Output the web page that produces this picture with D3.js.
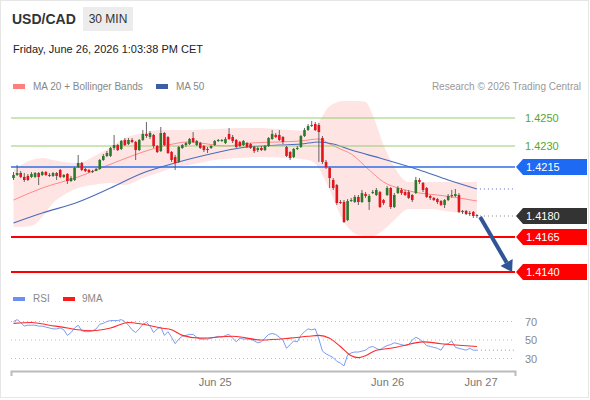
<!DOCTYPE html>
<html>
<head>
<meta charset="utf-8">
<script src="https://cdn.jsdelivr.net/npm/d3@7"></script>
<style>
body { margin: 0; background: #fff; }
svg { display: block; font-family: "Liberation Sans", Arial, sans-serif; }
</style>
</head>
<body>
<svg id="chart" width="590" height="400"></svg>
<script>
// 30 min candles, index 0 = first bar on the chart
var opens = [
1.42071,1.42093,1.42107,1.42079,1.42086,1.42079,1.42079,1.42107,1.42093,1.42114,
1.42093,1.42086,1.42107,1.42129,1.42079,1.42100,1.42050,1.42057,1.42150,1.42179,
1.42136,1.42129,1.42114,1.42121,1.42136,1.42200,1.42229,1.42229,1.42286,1.42307,
1.42279,1.42343,1.42314,1.42343,1.42329,1.42271,1.42343,1.42386,1.42364,1.42379,
1.42300,1.42264,1.42393,1.42364,1.42257,1.42221,1.42186,1.42286,1.42307,1.42314,
1.42357,1.42307,1.42321,1.42300,1.42279,1.42286,1.42307,1.42336,1.42336,1.42321,
1.42386,1.42364,1.42343,1.42329,1.42307,1.42321,1.42314,1.42293,1.42271,1.42286,
1.42271,1.42300,1.42350,1.42379,1.42379,1.42364,1.42293,1.42257,1.42221,1.42279,
1.42293,1.42371,1.42414,1.42443,1.42457,1.42450,1.42357,1.42186,1.42143,1.42057,
1.42021,1.41900,1.41900,1.41771,1.41907,1.41900,1.41936,1.41900,1.41957,1.41900,
1.41964,1.41950,1.41971,1.41914,1.41950,1.42000,1.41864,1.41964,1.41986,1.41971,
1.41971,1.41950,1.41964,1.42057,1.42036,1.42000,1.41943,1.41929,1.41921,1.41907,
1.41879,1.41914,1.41943,1.41943,1.41950,1.41836,1.41836,1.41821,1.41829,1.41807];
var closes = [
1.42093,1.42107,1.42079,1.42057,1.42057,1.42100,1.42107,1.42079,1.42114,1.42093,
1.42086,1.42107,1.42086,1.42079,1.42093,1.42050,1.42071,1.42143,1.42179,1.42129,
1.42121,1.42114,1.42121,1.42136,1.42200,1.42229,1.42250,1.42286,1.42307,1.42271,
1.42336,1.42307,1.42343,1.42329,1.42271,1.42343,1.42386,1.42371,1.42393,1.42300,
1.42257,1.42393,1.42307,1.42250,1.42200,1.42179,1.42293,1.42307,1.42321,1.42350,
1.42329,1.42336,1.42286,1.42271,1.42271,1.42300,1.42336,1.42343,1.42343,1.42350,
1.42350,1.42336,1.42293,1.42300,1.42336,1.42293,1.42286,1.42264,1.42286,1.42271,
1.42300,1.42357,1.42386,1.42364,1.42343,1.42329,1.42229,1.42214,1.42279,1.42286,
1.42371,1.42414,1.42443,1.42450,1.42414,1.42400,1.42186,1.42150,1.42071,1.42000,
1.41893,1.41893,1.41757,1.41907,1.41914,1.41936,1.41900,1.41964,1.41943,1.41943,
1.41971,1.41986,1.41864,1.41893,1.42000,1.41864,1.41950,1.42000,1.41964,1.41950,
1.41929,1.41914,1.42057,1.42043,1.41986,1.41936,1.41929,1.41914,1.41900,1.41879,
1.41914,1.41943,1.41950,1.41957,1.41829,1.41829,1.41814,1.41814,1.41800,1.41800];
var highs = [
1.42114,1.42164,1.42121,1.42107,1.42100,1.42114,1.42114,1.42114,1.42121,1.42121,
1.42107,1.42114,1.42114,1.42136,1.42100,1.42107,1.42086,1.42150,1.42236,1.42186,
1.42143,1.42136,1.42129,1.42143,1.42207,1.42243,1.42264,1.42293,1.42379,1.42314,
1.42343,1.42357,1.42357,1.42357,1.42336,1.42350,1.42414,1.42471,1.42407,1.42386,
1.42307,1.42436,1.42400,1.42371,1.42264,1.42236,1.42300,1.42314,1.42329,1.42357,
1.42400,1.42343,1.42329,1.42307,1.42293,1.42307,1.42343,1.42350,1.42350,1.42364,
1.42429,1.42379,1.42350,1.42336,1.42343,1.42329,1.42321,1.42300,1.42293,1.42300,
1.42307,1.42364,1.42414,1.42393,1.42414,1.42371,1.42300,1.42264,1.42286,1.42300,
1.42379,1.42429,1.42457,1.42479,1.42471,1.42464,1.42371,1.42200,1.42150,1.42071,
1.42029,1.41914,1.41914,1.41921,1.41929,1.41950,1.41950,1.41986,1.41971,1.41957,
1.41986,1.42000,1.41979,1.41921,1.42014,1.42007,1.41964,1.42014,1.42000,1.41986,
1.41986,1.41957,1.42079,1.42071,1.42043,1.42007,1.41950,1.41936,1.41929,1.41914,
1.41921,1.41957,1.41986,1.41993,1.41964,1.41843,1.41843,1.41836,1.41836,1.41814];
var lows = [
1.42057,1.42086,1.42071,1.42043,1.42050,1.42071,1.42071,1.42021,1.42086,1.42086,
1.42079,1.42079,1.42057,1.42071,1.42071,1.42029,1.42043,1.42050,1.42143,1.42121,
1.42114,1.42107,1.42107,1.42121,1.42129,1.42193,1.42221,1.42221,1.42271,1.42264,
1.42271,1.42300,1.42307,1.42321,1.42200,1.42264,1.42336,1.42357,1.42350,1.42286,
1.42250,1.42257,1.42300,1.42243,1.42186,1.42129,1.42179,1.42279,1.42293,1.42307,
1.42321,1.42300,1.42279,1.42257,1.42250,1.42279,1.42300,1.42329,1.42329,1.42314,
1.42343,1.42321,1.42286,1.42293,1.42300,1.42286,1.42279,1.42250,1.42257,1.42264,
1.42264,1.42293,1.42343,1.42357,1.42336,1.42314,1.42221,1.42200,1.42214,1.42271,
1.42286,1.42364,1.42407,1.42436,1.42407,1.42186,1.42171,1.42136,1.42000,1.41986,
1.41879,1.41886,1.41750,1.41764,1.41900,1.41893,1.41879,1.41893,1.41929,1.41843,
1.41957,1.41943,1.41857,1.41879,1.41943,1.41850,1.41857,1.41957,1.41950,1.41943,
1.41921,1.41900,1.41957,1.42029,1.41971,1.41929,1.41914,1.41907,1.41886,1.41871,
1.41857,1.41907,1.41929,1.41936,1.41821,1.41814,1.41807,1.41800,1.41786,1.41786];

// indicator readings (bar index -> value)
var ma20Idx = [0, 8, 18, 23, 30, 36, 43, 49, 59, 66, 74, 80, 85, 88, 91, 94, 99, 103, 108, 113, 118, 124, 129];
var ma20 = [1.41914, 1.42000, 1.42079, 1.42129, 1.42200, 1.42257, 1.42307, 1.42329, 1.42300, 1.42321, 1.42329, 1.42336,
  1.42350, 1.42314, 1.42279, 1.42243, 1.42129, 1.42043, 1.41993, 1.41964, 1.41950, 1.41929, 1.41907];
var ma50Idx = [0, 8, 18, 27, 36, 43, 49, 56, 63, 74, 80, 85, 89, 94, 102, 113, 121, 129];
var ma50 = [1.41750, 1.41821, 1.41900, 1.42000, 1.42107, 1.42164, 1.42207, 1.42250, 1.42286, 1.42307, 1.42314, 1.42329,
  1.42314, 1.42271, 1.42214, 1.42129, 1.42057, 1.41993];
var bbIdx = [0, 5, 8, 11, 14, 18, 22, 27, 31, 36, 41, 45, 49, 56, 63, 68, 77, 82, 85, 86, 88, 92, 96, 98, 100, 103, 106, 110, 116, 122, 129];
var bbUpper = [1.42129, 1.42200, 1.42214, 1.42200, 1.42186, 1.42179, 1.42221, 1.42293, 1.42357, 1.42393, 1.42414, 1.42414,
  1.42414, 1.42421, 1.42429, 1.42429, 1.42414, 1.42407, 1.42471, 1.42514, 1.42586, 1.42621, 1.42621, 1.42614, 1.42521,
  1.42307, 1.42150, 1.42043, 1.42043, 1.42043, 1.42043];
var bbLower = [1.41721, 1.41729, 1.41793, 1.41893, 1.41950, 1.42000, 1.42021, 1.42036, 1.42021, 1.42071, 1.42114, 1.42150,
  1.42164, 1.42200, 1.42214, 1.42221, 1.42214, 1.42200, 1.42143, 1.42093, 1.41986, 1.41757, 1.41664, 1.41657, 1.41657,
  1.41700, 1.41771, 1.41850, 1.41850, 1.41829, 1.41814];

var rsi = [
70,72,69,65,66,66,66,65,65,64, 63,62,62,63,61,55,58,63,66,60,
59,59,60,62,67,68,70,71,71,71, 72,70,66,61,58,62,67,69,65,58,
62,64,55,59,53,46,51,54,55,56, 56,53,51,51,51,52,53,54,53,55,
56,52,48,52,51,51,51,49,47,48, 52,56,57,56,53,50,41,45,49,48,
55,59,62,61,62,51,38,35,33,31, 27,25,22,34,36,37,37,38,39,42,
43,41,39,42,44,45,47,46,45,44, 45,50,53,51,48,44,43,42,41,39,
45,46,49,42,41,40,39,41,39,39];
var rsiMaIdx = [0, 5, 10, 15, 18, 22, 27, 32, 36, 41, 44, 47, 52, 61, 69, 77, 82, 85, 88, 91, 94, 96, 98, 101, 105, 108, 114, 119, 125, 129];
var rsiMa = [68, 69, 66, 63, 61, 60, 63, 69, 67, 63, 61, 55, 52, 54, 50, 52, 54, 55, 52, 43, 33, 31, 33, 39, 41, 43.5, 48, 46, 44, 43];

var resistances = [1.4250, 1.4230];
var pivot = 1.4215;
var lastPrice = 1.4180;
var supports = [1.4165, 1.4140];
var rsiLevels = [70, 50, 30];
var tickIdx = [56, 104, 130];
var tickLabels = ["Jun 25", "Jun 26", "Jun 27"];

var svg = d3.select("#chart");
var x = d3.scaleLinear().domain([-0.7, 139.6]).range([11, 515]);
var y = d3.scaleLinear().domain([1.4140, 1.4250]).range([272, 118]);
var yRsi = d3.scaleLinear().domain([30, 70]).range([358.5, 321.5]);
var left = x.range()[0], right = x.range()[1];
var lastIdx = closes.length - 1;

svg.append("rect").attr("x", 0.5).attr("y", 0.5).attr("width", 588).attr("height", 397)
	.attr("fill", "#fff").attr("stroke", "#e6e6e6");

// header
svg.append("text").attr("x", 12).attr("y", 24).attr("font-size", 14).attr("font-weight", "bold")
	.attr("fill", "#333").text("USD/CAD");
svg.append("rect").attr("x", 83).attr("y", 7).attr("width", 50).attr("height", 24).attr("fill", "#ececec");
svg.append("text").attr("x", 108).attr("y", 23).attr("font-size", 12).attr("text-anchor", "middle")
	.attr("fill", "#333").text("30 MIN");
svg.append("text").attr("x", 13).attr("y", 53).attr("font-size", 11).attr("fill", "#222")
	.text("Friday, June 26, 2026 1:03:38 PM CET");

// legend
svg.append("rect").attr("x", 13).attr("y", 84).attr("width", 12).attr("height", 5).attr("fill", "#ff7f7f");
svg.append("text").attr("x", 33).attr("y", 90).attr("font-size", 10).attr("fill", "#888").text("MA 20 + Bollinger Bands");
svg.append("rect").attr("x", 156).attr("y", 84).attr("width", 12).attr("height", 5).attr("fill", "#3b5ea6");
svg.append("text").attr("x", 176).attr("y", 90).attr("font-size", 10).attr("fill", "#888").text("MA 50");
svg.append("text").attr("x", 581).attr("y", 90).attr("font-size", 10).attr("fill", "#999")
	.attr("text-anchor", "end").text("Research \u00a9 2026 Trading Central");

// bollinger band + moving averages
var band = bbIdx.map(function(d, i) { return { i: d, up: bbUpper[i], lo: bbLower[i] }; });
svg.append("path").datum(band)
	.attr("d", d3.area().x(function(d) { return x(d.i); }).y0(function(d) { return y(d.lo); })
		.y1(function(d) { return y(d.up); }).curve(d3.curveMonotoneX))
	.attr("fill", "#ffe4e4");

var maLine = d3.line().x(function(d) { return x(d[0]); }).y(function(d) { return y(d[1]); }).curve(d3.curveMonotoneX);
svg.append("path").datum(d3.zip(ma20Idx, ma20)).attr("d", maLine)
	.attr("fill", "none").attr("stroke", "#ff8a8a").attr("stroke-width", 1);
svg.append("path").datum(d3.zip(ma50Idx, ma50)).attr("d", maLine)
	.attr("fill", "none").attr("stroke", "#4a6cbc").attr("stroke-width", 1.1);
svg.append("line").attr("x1", x(lastIdx) + 3).attr("x2", right)
	.attr("y1", y(ma50[ma50.length - 1])).attr("y2", y(ma50[ma50.length - 1]))
	.attr("stroke", "#4a6cbc").attr("stroke-dasharray", "1,3");

// levels
resistances.forEach(function(v) {
	svg.append("line").attr("x1", left).attr("x2", right).attr("y1", y(v)).attr("y2", y(v))
		.attr("stroke", "#98cc6e").attr("stroke-width", 1);
	svg.append("text").attr("x", 525).attr("y", y(v) + 4).attr("font-size", 11).attr("fill", "#5aa52a")
		.text(v.toFixed(4));
});
svg.append("line").attr("x1", left).attr("x2", right).attr("y1", y(pivot)).attr("y2", y(pivot))
	.attr("stroke", "#2f6fe6").attr("stroke-width", 1.5);
supports.forEach(function(v) {
	svg.append("line").attr("x1", left).attr("x2", right).attr("y1", y(v)).attr("y2", y(v))
		.attr("stroke", "#ff0000").attr("stroke-width", 2);
});
svg.append("line").attr("x1", x(lastIdx) + 3).attr("x2", right).attr("y1", y(lastPrice)).attr("y2", y(lastPrice))
	.attr("stroke", "#888").attr("stroke-dasharray", "1,3");

// candles
var candles = d3.range(closes.length);
svg.append("g").selectAll("line").data(candles).enter().append("line")
	.attr("x1", function(i) { return x(i); }).attr("x2", function(i) { return x(i); })
	.attr("y1", function(i) { return y(highs[i]); }).attr("y2", function(i) { return y(lows[i]); })
	.attr("stroke", "#555").attr("stroke-width", 0.9);
svg.append("g").selectAll("rect").data(candles).enter().append("rect")
	.attr("x", function(i) { return x(i) - 1.3; }).attr("width", 2.6)
	.attr("y", function(i) { return y(Math.max(opens[i], closes[i])); })
	.attr("height", function(i) { return Math.max(1, Math.abs(y(opens[i]) - y(closes[i]))); })
	.attr("fill", function(i) { return closes[i] >= opens[i] ? "#2b7a2b" : "#e3141b"; });

// price tags
var tag = function(v, color) {
	var yy = y(v);
	svg.append("path").attr("d", "M516," + yy + "L523," + (yy - 8) + "H587V" + (yy + 8) + "H523Z").attr("fill", color);
	svg.append("text").attr("x", 526).attr("y", yy + 4).attr("font-size", 11).attr("fill", "#fff").text(v.toFixed(4));
};
tag(pivot, "#1f6af3");
tag(lastPrice, "#333");
supports.forEach(function(v) { tag(v, "#ff0000"); });

// forecast arrow
var ax0 = x(lastIdx + 0.9), ay0 = y(1.41793), ax1 = x(138.8), ay1 = y(supports[1]);
var ang = Math.atan2(ay1 - ay0, ax1 - ax0);
var hx = ax1 - 11 * Math.cos(ang), hy = ay1 - 11 * Math.sin(ang);
svg.append("line").attr("x1", ax0).attr("y1", ay0).attr("x2", hx).attr("y2", hy)
	.attr("stroke", "#2f5597").attr("stroke-width", 4);
svg.append("path").attr("fill", "#2f5597")
	.attr("d", "M" + ax1 + "," + ay1 +
		"L" + (hx + 7 * Math.sin(ang)) + "," + (hy - 7 * Math.cos(ang)) +
		"L" + (hx - 7 * Math.sin(ang)) + "," + (hy + 7 * Math.cos(ang)) + "Z");

// RSI pane
svg.append("rect").attr("x", 13).attr("y", 297).attr("width", 12).attr("height", 4).attr("fill", "#6b8ff2");
svg.append("text").attr("x", 33).attr("y", 302).attr("font-size", 10).attr("fill", "#888").text("RSI");
svg.append("rect").attr("x", 63).attr("y", 297).attr("width", 12).attr("height", 4).attr("fill", "#ff1a1a");
svg.append("text").attr("x", 82).attr("y", 302).attr("font-size", 10).attr("fill", "#888").text("9MA");

rsiLevels.forEach(function(v) {
	svg.append("line").attr("x1", left).attr("x2", right).attr("y1", yRsi(v)).attr("y2", yRsi(v))
		.attr("stroke", "#bbb").attr("stroke-dasharray", "1,3");
	svg.append("text").attr("x", 525).attr("y", yRsi(v) + 4).attr("font-size", 11).attr("fill", "#888").text(v);
});
svg.append("path").datum(rsi)
	.attr("d", d3.line().x(function(d, i) { return x(i); }).y(function(d) { return yRsi(d); }))
	.attr("fill", "none").attr("stroke", "#7b9bf0").attr("stroke-width", 1);
svg.append("line").attr("x1", x(lastIdx)).attr("x2", right)
	.attr("y1", yRsi(rsi[lastIdx])).attr("y2", yRsi(rsi[lastIdx]))
	.attr("stroke", "#7b9bf0").attr("stroke-dasharray", "1,3");
svg.append("path").datum(d3.zip(rsiMaIdx, rsiMa))
	.attr("d", d3.line().x(function(d) { return x(d[0]); }).y(function(d) { return yRsi(d[1]); }).curve(d3.curveMonotoneX))
	.attr("fill", "none").attr("stroke", "#ff2a2a").attr("stroke-width", 1.1);

// time axis
var axis = svg.append("g").attr("transform", "translate(0,371)")
	.call(d3.axisBottom(x).tickValues(tickIdx).tickFormat(function(d, i) { return tickLabels[i]; })
		.tickSizeInner(0).tickSizeOuter(5).tickPadding(7));
axis.select(".domain").attr("stroke", "#bbb").attr("stroke-width", 2);
axis.selectAll("text").attr("font-size", 11).attr("fill", "#777").attr("font-family", "Liberation Sans, Arial, sans-serif");
</script>
</body>
</html>
